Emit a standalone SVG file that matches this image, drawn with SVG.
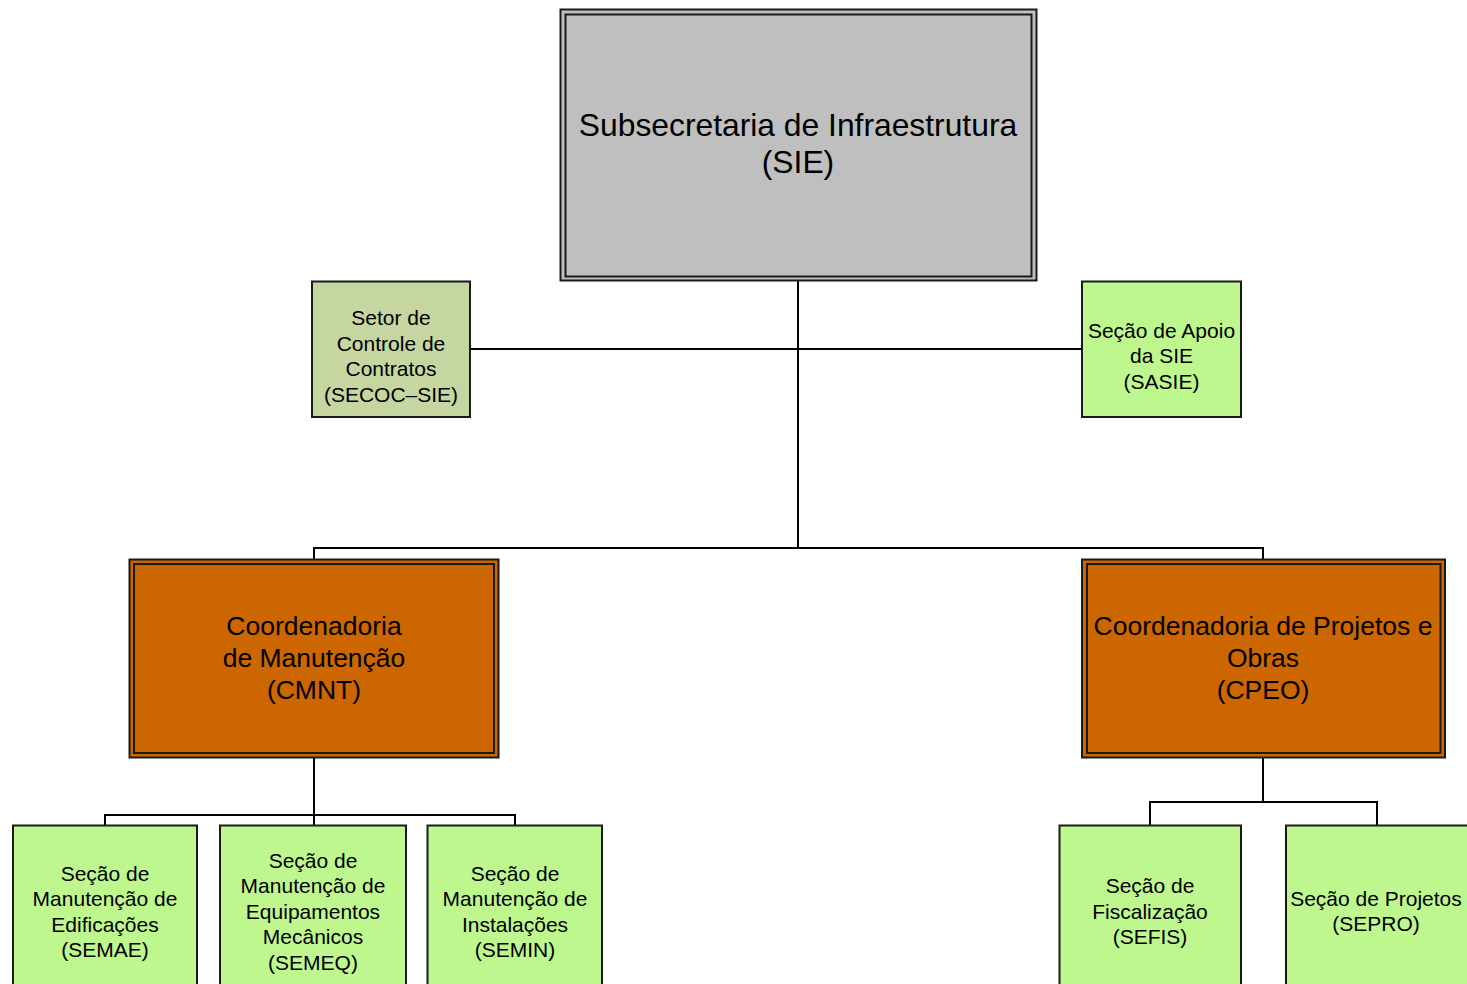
<svg xmlns="http://www.w3.org/2000/svg" width="1467" height="984" viewBox="0 0 1467 984">
<style>
text{font-family:"Liberation Sans",Arial,sans-serif;fill:#000;text-anchor:middle}
.t21{font-size:21px}
.t26{font-size:26.5px}
.t32{font-size:31.8px}
.box{stroke:#1a1a1a;stroke-width:2}
.inner{fill:none;stroke:#1a1a1a;stroke-width:2}
.green{fill:#BFF78F}
.olive{fill:#C5D6A0}
.orange{fill:#CC6600}
.gray{fill:#BFBFBF}
.conn{fill:none;stroke:#000;stroke-width:2}
</style>
<rect width="1467" height="984" fill="#fff"/>
<g id="connectors">
<path class="conn" d="M798 281 V548"/>
<path class="conn" d="M470 349 H1082"/>
<path class="conn" d="M314 560 V548 H1263 V560"/>
<path class="conn" d="M314 757 V825"/>
<path class="conn" d="M105 825 V815 H515 V825"/>
<path class="conn" d="M1263 757 V802"/>
<path class="conn" d="M1150 825 V802 H1377 V825"/>
</g>
<g id="SIE">
<rect class="box gray" x="560.5" y="9.5" width="476" height="271"/>
<rect class="inner" x="565.5" y="14.5" width="466" height="262"/>
<text class="t32" x="798" y="136">Subsecretaria de Infraestrutura</text>
<text class="t32" x="798" y="173">(SIE)</text>
</g>
<g id="SECOC">
<rect class="box olive" x="312" y="281.5" width="158" height="135.5"/>
<text class="t21" x="391" y="325">Setor de</text>
<text class="t21" x="391" y="351">Controle de</text>
<text class="t21" x="391" y="376">Contratos</text>
<text class="t21" x="391" y="402">(SECOC–SIE)</text>
</g>
<g id="SASIE">
<rect class="box green" x="1082" y="281.5" width="159" height="135.5"/>
<text class="t21" x="1161.5" y="338">Seção de Apoio</text>
<text class="t21" x="1161.5" y="363">da SIE</text>
<text class="t21" x="1161.5" y="389">(SASIE)</text>
</g>
<g id="CMNT">
<rect class="box orange" x="129.5" y="559.5" width="369" height="198"/>
<rect class="inner" x="134" y="564" width="360" height="189"/>
<text class="t26" x="314" y="635">Coordenadoria</text>
<text class="t26" x="314" y="667">de Manutenção</text>
<text class="t26" x="314" y="699">(CMNT)</text>
</g>
<g id="CPEO">
<rect class="box orange" x="1082" y="559.5" width="363" height="198"/>
<rect class="inner" x="1087" y="564" width="353.5" height="189"/>
<text class="t26" x="1263" y="635">Coordenadoria de Projetos e</text>
<text class="t26" x="1263" y="667">Obras</text>
<text class="t26" x="1263" y="699">(CPEO)</text>
</g>
<g id="SEMAE">
<rect class="box green" x="13" y="825.5" width="184" height="170"/>
<text class="t21" x="105" y="881">Seção de</text>
<text class="t21" x="105" y="906">Manutenção de</text>
<text class="t21" x="105" y="932">Edificações</text>
<text class="t21" x="105" y="957">(SEMAE)</text>
</g>
<g id="SEMEQ">
<rect class="box green" x="220" y="825.5" width="186" height="170"/>
<text class="t21" x="313" y="868">Seção de</text>
<text class="t21" x="313" y="893">Manutenção de</text>
<text class="t21" x="313" y="919">Equipamentos</text>
<text class="t21" x="313" y="944">Mecânicos</text>
<text class="t21" x="313" y="970">(SEMEQ)</text>
</g>
<g id="SEMIN">
<rect class="box green" x="427.5" y="825.5" width="174.5" height="170"/>
<text class="t21" x="515" y="881">Seção de</text>
<text class="t21" x="515" y="906">Manutenção de</text>
<text class="t21" x="515" y="932">Instalações</text>
<text class="t21" x="515" y="957">(SEMIN)</text>
</g>
<g id="SEFIS">
<rect class="box green" x="1059.5" y="825.5" width="181.5" height="170"/>
<text class="t21" x="1150" y="893">Seção de</text>
<text class="t21" x="1150" y="919">Fiscalização</text>
<text class="t21" x="1150" y="944">(SEFIS)</text>
</g>
<g id="SEPRO">
<rect class="box green" x="1286" y="825.5" width="190" height="170"/>
<text class="t21" x="1376" y="906">Seção de Projetos</text>
<text class="t21" x="1376" y="931">(SEPRO)</text>
</g>
</svg>
